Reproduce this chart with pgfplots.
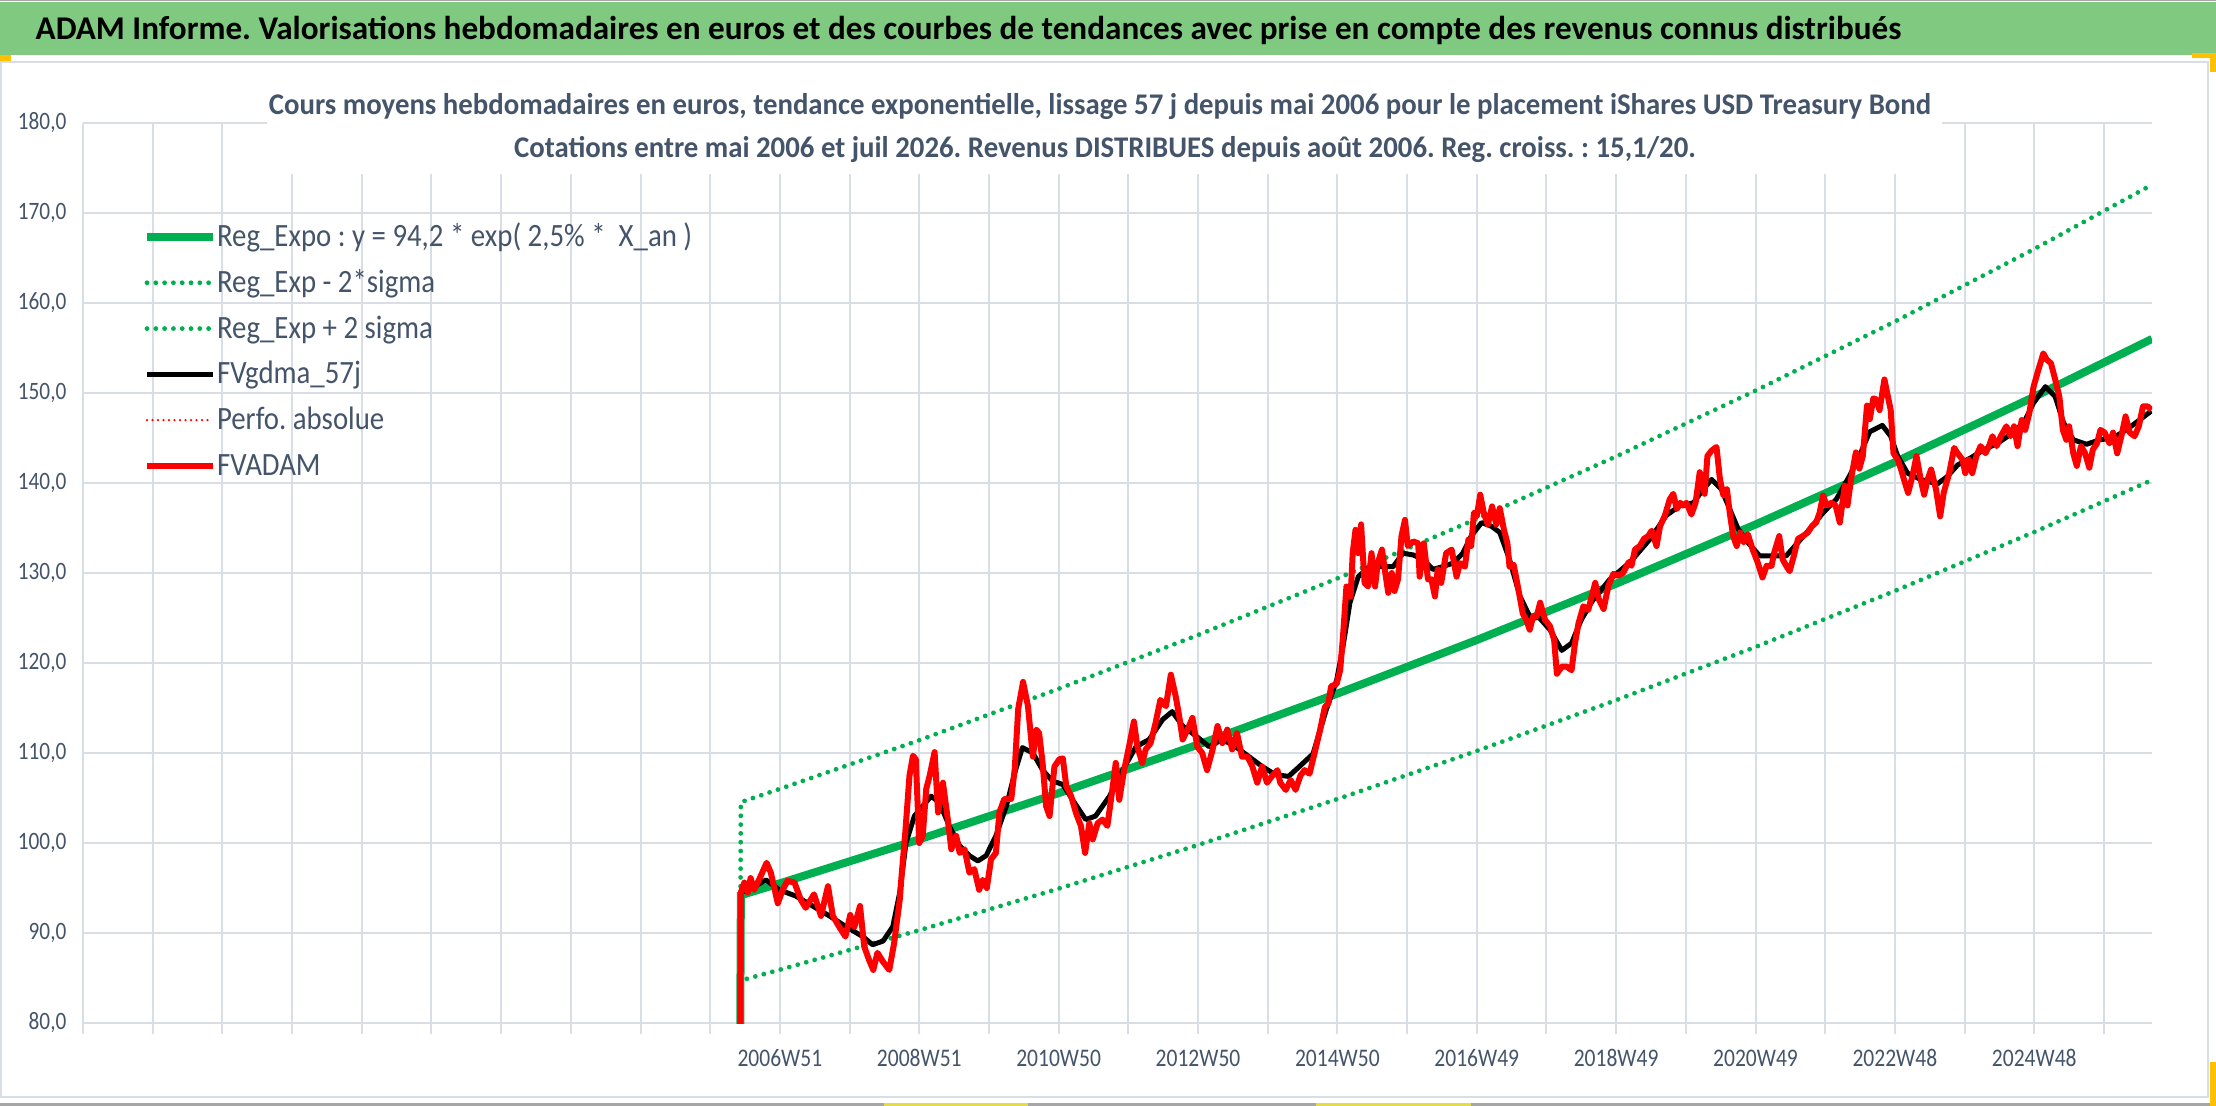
\documentclass[border=0pt]{standalone}
\usepackage{pgfplots}
\pgfplotsset{compat=1.18}
\usepackage{fontspec}
\setmainfont{Carlito}
\newfontfamily\cfont{Carlito}[FakeStretch=0.85]
\newfontfamily\bfont{Carlito}
\newfontfamily\tfont{Carlito}[FakeStretch=0.96]
\newfontfamily\lfont{Carlito}[FakeStretch=0.887]
\definecolor{tbgreen}{RGB}{128,201,128}
\definecolor{slate}{RGB}{68,84,106}
\definecolor{gridc}{RGB}{217,222,230}
\definecolor{xlgreen}{RGB}{0,176,80}
\definecolor{axgray}{RGB}{89,89,89}
\definecolor{hdl}{RGB}{255,192,0}
\definecolor{ymark}{RGB}{228,220,70}
\def\U{0.3pt}
\frenchspacing
\begin{document}
\begin{tikzpicture}
% page
\fill[white] (0,0) rectangle ({2216*\U},{-1106*\U});
\fill[gray!70] (0,0) rectangle ({2216*\U},{-1.5*\U});
\fill[tbgreen] (0,{-2*\U}) rectangle ({2216*\U},{-55*\U});
\draw[gridc, line width={2*\U}] ({1*\U},{-62*\U}) -- ({2208*\U},{-62*\U}) -- ({2208*\U},{-1097*\U}) -- ({1*\U},{-1097*\U}) -- cycle;
\fill[gray!70] (0,{-1103*\U}) rectangle ({2216*\U},{-1106*\U});
\fill[ymark] ({884*\U},{-1103*\U}) rectangle ({1028*\U},{-1106*\U});
\fill[ymark] ({1316*\U},{-1103*\U}) rectangle ({1471*\U},{-1106*\U});
\fill[hdl] (0,{-55*\U}) rectangle ({11*\U},{-61*\U});
\fill[hdl] ({2192*\U},{-53*\U}) rectangle ({2216*\U},{-58*\U});
\fill[hdl] ({2210*\U},{-53*\U}) rectangle ({2216*\U},{-72*\U});
\fill[hdl] ({2210*\U},{-1062*\U}) rectangle ({2216*\U},{-1106*\U});
\node[anchor=base west, inner sep=0pt, font={\bfont\bfseries\fontsize{9.95}{12}\selectfont}] at ({35*\U},{-40*\U}) {ADAM Informe. Valorisations hebdomadaires en euros et des courbes de tendances avec prise en compte des revenus connus distribués};

\begin{axis}[
  at={({83*\U},{-1023*\U})}, anchor=south west,
  scale only axis, width={2069*\U}, height={900*\U},
  xmin=0, xmax=29.69, ymin=80, ymax=180,
  xtick={0,1,...,29},
  xticklabels={,,,,,,,,,,2006W51,,2008W51,,2010W50,,2012W50,,2014W50,,2016W49,,2018W49,,2020W49,,2022W48,,2024W48,},
  ytick={80,90,...,180},
  grid=major,
  major grid style={gridc, line width={2*\U}},
  axis line style={draw=none},
  tick align=outside,
  xtick pos=bottom, ytick pos=left,
  ytick style={draw=none},
  xtick style={gridc, line width={2*\U}},
  major tick length={11*\U},
  yticklabel style={font={\cfont\fontsize{7.5}{9}\selectfont}, text=slate, anchor=east, inner sep=0pt, xshift={-5*\U},
     /pgf/number format/.cd, fixed, fixed zerofill, precision=1, use comma, assume math mode=true},
  xticklabel style={font={\cfont\fontsize{7.6}{9}\selectfont}, text=slate, anchor=north, inner sep=0pt, yshift={-15*\U}},
  legend style={at={(0.029,0.8988)}, anchor=north west, draw=none, fill=none,
     font={\lfont\fontsize{9.75}{11}\selectfont}, text=slate, row sep=0pt, inner sep=0pt, outer sep=0pt, column sep=0pt,
     nodes={inner sep=0pt, text height=9.74pt, text depth=4pt}},
  legend cell align=left,
  legend image code/.code={\draw[#1] (0pt,0pt) -- (19.8pt,0pt);},
  clip=true,
]
\addplot[xlgreen, line width={8*\U}] coordinates {
(9.42,60) (9.44,94.20) (10,95.52) (12,100.40) (14,105.54) (16,110.93) (18,116.60) (20,122.55) (22,128.81) (24,135.39) (26,142.31) (28,149.58) (29.69,156.01)};
\addlegendentry{Reg\_Expo : y = 94,2 * exp( 2,5\% *\ \ X\_an )}
\addplot[xlgreen, line width={4.8*\U}, line cap=round, dash pattern=on 0pt off {8.8*\U}] coordinates {
(9.42,60) (9.44,84.73) (10,85.92) (12,90.31) (14,94.93) (16,99.78) (18,104.88) (20,110.23) (22,115.87) (24,121.78) (26,128.01) (28,134.55) (29.69,140.33)};
\addlegendentry{Reg\_Exp - 2*sigma}
\addplot[xlgreen, line width={4.8*\U}, line cap=round, dash pattern=on 0pt off {8.8*\U}] coordinates {
(9.42,60) (9.44,104.54) (10,106.01) (12,111.42) (14,117.13) (16,123.11) (18,129.40) (20,136.01) (22,142.95) (24,150.26) (26,157.94) (28,166.00) (29.69,173.14)};
\addlegendentry{Reg\_Exp + 2 sigma}
\addplot[black, line width={5*\U}, line join=round] coordinates {
(9.42,60) (9.44,94.5) (9.55,94.8) (9.80,95.9) (9.99,94.8) (10.23,94.1) (10.47,93.0) (10.71,91.9) (10.95,90.7) (11.19,89.6) (11.33,88.7) (11.48,89.1) (11.62,90.7) (11.72,94.5) (11.81,100.0) (11.93,103.0) (12.05,104.1) (12.17,105.2) (12.29,104.5) (12.43,101.9) (12.58,99.7) (12.72,98.6) (12.84,98.0) (12.96,98.6) (13.10,100.8) (13.25,104.1) (13.37,107.8) (13.48,110.6) (13.63,110.0) (13.77,108.1) (13.91,106.9) (14.06,106.5) (14.20,104.8) (14.39,102.6) (14.53,103.0) (14.73,105.2) (14.92,108.1) (15.11,110.7) (15.30,111.5) (15.49,113.7) (15.63,114.6) (15.78,113.0) (15.97,111.9) (16.16,110.7) (16.35,111.5) (16.54,110.7) (16.73,109.6) (16.92,108.5) (17.11,107.6) (17.30,107.4) (17.47,108.6) (17.65,109.9) (17.84,114.8) (17.99,118.1) (18.08,121.8) (18.18,126.7) (18.30,129.6) (18.46,130.7) (18.65,130.7) (18.80,130.7) (18.94,132.2) (19.09,132.0) (19.23,131.5) (19.37,130.4) (19.51,130.7) (19.66,131.1) (19.80,132.2) (19.92,134.1) (20.07,135.6) (20.21,135.2) (20.33,134.5) (20.47,131.5) (20.62,127.4) (20.76,125.2) (20.90,125.0) (21.05,123.7) (21.22,121.4) (21.36,122.2) (21.50,124.8) (21.65,126.8) (21.91,129.3) (22.20,131.2) (22.49,133.8) (22.72,136.4) (22.92,137.5) (23.11,137.8) (23.25,139.3) (23.37,140.4) (23.51,139.3) (23.63,137.1) (23.75,134.9) (23.89,133.4) (24.06,131.9) (24.25,131.9) (24.44,131.9) (24.61,133.4) (24.78,134.9) (24.97,136.7) (25.16,138.2) (25.35,140.8) (25.49,143.0) (25.64,145.7) (25.82,146.4) (25.94,145.2) (26.04,143.0) (26.18,141.1) (26.37,140.4) (26.61,139.9) (26.75,140.7) (26.90,142.0) (27.09,142.8) (27.28,143.7) (27.47,144.4) (27.66,145.4) (27.85,146.7) (27.99,148.9) (28.16,150.7) (28.30,149.6) (28.42,146.7) (28.56,144.8) (28.75,144.3) (28.94,144.8) (29.13,145.0) (29.32,145.9) (29.51,147.0) (29.68,148.0)};
\addlegendentry{FVgdma\_57j}
\addlegendimage{red, line width={2.5*\U}, line cap=round, dash pattern=on 0pt off {5.5*\U}}
\addlegendentry{Perfo. absolue}
\addplot[red, line width={6*\U}, line join=round] coordinates {
(9.42,60) (9.44,94.5) (9.49,95.6) (9.54,94.5) (9.58,96.1) (9.63,94.8) (9.70,95.9) (9.81,97.8) (9.87,96.7) (9.97,93.3) (10.04,94.8) (10.11,95.8) (10.21,95.6) (10.30,93.7) (10.37,92.8) (10.49,94.3) (10.59,91.9) (10.69,95.2) (10.76,91.9) (10.85,90.7) (10.94,89.6) (11.01,92.0) (11.07,90.7) (11.15,93.0) (11.21,88.5) (11.28,87.0) (11.34,85.9) (11.40,87.8) (11.48,86.8) (11.57,85.9) (11.64,88.9) (11.72,93.7) (11.75,96.7) (11.80,101.2) (11.86,107.5) (11.91,109.7) (11.95,109.3) (12.00,100.0) (12.05,100.8) (12.10,106.0) (12.15,107.5) (12.22,110.1) (12.27,103.4) (12.34,106.7) (12.41,102.6) (12.46,99.3) (12.53,100.8) (12.58,98.9) (12.65,99.3) (12.72,96.7) (12.79,97.1) (12.86,94.8) (12.91,95.9) (12.97,95.0) (13.03,98.2) (13.10,98.9) (13.15,103.4) (13.22,104.9) (13.32,104.9) (13.37,108.2) (13.42,114.9) (13.49,117.9) (13.56,115.2) (13.63,109.6) (13.68,112.6) (13.72,112.2) (13.77,108.9) (13.82,104.1) (13.87,103.0) (13.94,108.5) (14.01,109.3) (14.06,109.4) (14.11,106.3) (14.18,105.2) (14.25,103.3) (14.32,101.9) (14.38,98.9) (14.44,102.2) (14.49,100.4) (14.56,102.2) (14.63,102.6) (14.70,101.9) (14.77,105.9) (14.82,108.9) (14.87,104.8) (14.94,108.1) (15.01,110.7) (15.08,113.5) (15.13,110.7) (15.20,108.9) (15.25,110.4) (15.32,111.1) (15.39,113.3) (15.46,115.9) (15.54,115.2) (15.61,118.7) (15.68,116.3) (15.73,114.1) (15.78,111.5) (15.85,112.6) (15.92,113.9) (15.99,110.7) (16.06,110.0) (16.13,108.1) (16.21,110.4) (16.28,113.0) (16.35,111.1) (16.42,112.6) (16.49,110.4) (16.56,112.2) (16.63,109.6) (16.71,109.6) (16.78,108.5) (16.85,106.7) (16.92,108.5) (16.99,106.7) (17.06,107.4) (17.14,108.1) (17.18,106.7) (17.26,105.9) (17.33,107.0) (17.40,105.9) (17.47,107.5) (17.53,108.1) (17.60,107.7) (17.67,109.9) (17.75,112.5) (17.82,115.1) (17.87,115.5) (17.91,117.4) (17.99,117.7) (18.04,119.2) (18.08,122.9) (18.13,128.5) (18.19,127.4) (18.22,132.2) (18.26,134.8) (18.30,132.2) (18.34,135.4) (18.39,128.9) (18.44,128.5) (18.49,132.2) (18.54,128.5) (18.58,131.1) (18.64,132.6) (18.68,130.4) (18.73,127.8) (18.78,130.0) (18.82,128.0) (18.87,129.3) (18.92,134.1) (18.97,135.9) (19.01,133.0) (19.09,133.5) (19.16,133.3) (19.18,129.6) (19.24,133.3) (19.30,129.3) (19.35,129.3) (19.40,127.4) (19.44,130.4) (19.49,128.9) (19.56,132.2) (19.64,132.6) (19.71,129.6) (19.76,131.1) (19.83,130.7) (19.88,133.7) (19.92,133.0) (19.96,136.7) (20.00,136.3) (20.05,138.7) (20.10,136.7) (20.16,135.4) (20.22,137.4) (20.28,135.4) (20.33,137.2) (20.39,134.8) (20.44,133.3) (20.47,130.7) (20.53,130.9) (20.59,128.5) (20.66,125.5) (20.71,124.8) (20.76,123.7) (20.81,125.2) (20.86,125.2) (20.91,126.7) (20.98,124.8) (21.05,124.1) (21.11,122.6) (21.15,118.8) (21.22,119.6) (21.29,119.6) (21.36,119.2) (21.41,122.2) (21.46,124.4) (21.53,126.3) (21.60,125.9) (21.70,128.9) (21.75,127.1) (21.82,126.0) (21.89,128.6) (21.96,129.9) (22.03,129.7) (22.10,130.0) (22.18,131.2) (22.22,130.8) (22.27,132.6) (22.34,133.0) (22.40,133.8) (22.46,134.1) (22.51,134.7) (22.58,133.0) (22.63,135.2) (22.70,136.4) (22.77,138.2) (22.82,138.8) (22.87,137.1) (22.92,137.8) (22.96,137.5) (23.01,137.8) (23.08,136.5) (23.14,137.8) (23.20,141.2) (23.27,138.8) (23.31,143.0) (23.37,143.6) (23.44,144.0) (23.49,140.4) (23.54,138.6) (23.59,139.3) (23.63,136.7) (23.68,134.1) (23.73,133.0) (23.78,134.5) (23.83,133.4) (23.89,134.3) (23.96,132.6) (24.03,131.2) (24.10,129.5) (24.16,130.8) (24.23,130.8) (24.27,132.3) (24.34,134.1) (24.39,131.5) (24.44,130.8) (24.49,130.2) (24.55,131.9) (24.61,133.8) (24.68,134.1) (24.75,134.5) (24.81,135.2) (24.87,135.6) (24.92,136.7) (24.97,138.6) (25.02,137.5) (25.09,137.8) (25.15,137.5) (25.21,135.6) (25.28,139.7) (25.32,137.5) (25.37,140.4) (25.44,143.4) (25.49,141.6) (25.54,143.0) (25.60,148.6) (25.64,147.1) (25.69,149.4) (25.73,149.3) (25.78,148.1) (25.85,151.5) (25.90,149.6) (25.94,148.1) (25.98,143.3) (26.04,142.6) (26.09,141.5) (26.13,140.4) (26.19,138.9) (26.25,140.7) (26.31,143.0) (26.37,140.4) (26.42,138.7) (26.47,140.4) (26.52,141.5) (26.59,139.3) (26.65,136.3) (26.70,138.9) (26.78,141.1) (26.85,143.9) (26.90,143.3) (26.97,142.6) (27.01,141.1) (27.06,142.6) (27.11,141.1) (27.17,143.0) (27.23,144.1) (27.30,143.3) (27.35,144.1) (27.40,145.2) (27.46,144.1) (27.52,145.2) (27.60,146.3) (27.66,145.2) (27.71,146.3) (27.76,144.1) (27.82,147.0) (27.87,145.9) (27.93,147.8) (27.99,150.7) (28.06,152.6) (28.13,154.4) (28.18,153.7) (28.24,153.3) (28.30,151.5) (28.36,149.6) (28.41,145.9) (28.46,144.8) (28.50,146.3) (28.56,143.3) (28.61,141.9) (28.67,144.1) (28.73,143.3) (28.79,141.7) (28.84,143.7) (28.90,144.4) (28.95,145.9) (29.01,145.6) (29.08,144.4) (29.13,145.6) (29.19,143.3) (29.25,145.2) (29.31,147.4) (29.37,145.6) (29.44,145.2) (29.50,146.3) (29.56,148.5) (29.63,148.5) (29.68,148.1)};
\addlegendentry{FVADAM}
\end{axis}

% title box over the plot
\fill[white] ({267*\U},{-80*\U}) rectangle ({1942*\U},{-174*\U});
\node[anchor=base, inner sep=0pt, text=slate, font={\tfont\bfseries\fontsize{9}{11}\selectfont}] at ({1100*\U},{-115*\U}) {Cours moyens hebdomadaires en euros, tendance exponentielle, lissage 57 j depuis mai 2006 pour le placement iShares USD Treasury Bond};
\node[anchor=base, inner sep=0pt, text=slate, font={\tfont\bfseries\fontsize{9}{11}\selectfont}] at ({1105*\U},{-158*\U}) {Cotations entre mai 2006 et juil 2026. Revenus DISTRIBUES depuis août 2006. Reg. croiss. : 15,1/20.};
\end{tikzpicture}
\end{document}
